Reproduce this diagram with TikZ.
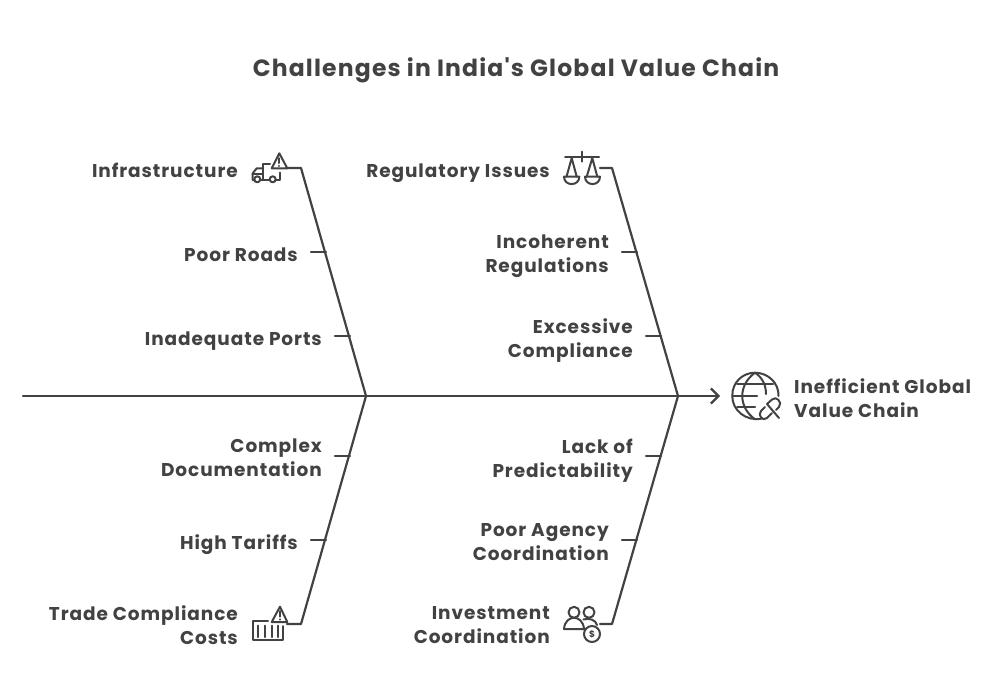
\documentclass[tikz,border=0pt]{standalone}
\usepackage{fontspec}
\setmainfont{Poppins}[LetterSpace=5.0, Ligatures=TeXOff]
\usetikzlibrary{positioning, arrows.meta}

\definecolor{ink}{HTML}{424242}

\begin{document}
\begin{tikzpicture}[x=1pt, y=-1pt, ink, line cap=round, line join=round,
                  bone/.style={draw, line width=2.2pt},
                  icon/.style={draw, line width=2pt},
                  cause/.style={font=\fontsize{18.5}{24}\selectfont\bfseries, text=ink,
                  align=right, inner sep=0pt, node distance=13pt,
                  execute at begin node=\strut, execute at end node=\strut},
                  effect/.style={cause, align=left}]
                  \useasboundingbox (0,0) rectangle (1008,697);

                  % Title of the picture.
                  \node[font=\fontsize{23.5}{24}\selectfont\bfseries, inner sep=0pt] (title) at (516,70)
                  {Challenges in India's Global Value Chain};

                  % Ends of the spine and the junctions of the bones.
                  \coordinate (tail) at (23,396);
                  \coordinate (head) at (720,396);
                  \coordinate (jl) at (366,396);
                  \coordinate (jr) at (678,396);

                  % Upper left bone.
                  \coordinate (ul0) at (287,168);
                  \coordinate (ul1) at (301,168);
                  \coordinate (ul2a) at (311,252);
                  \coordinate (ul2b) at (326,252);
                  \coordinate (ul3a) at (335,336);
                  \coordinate (ul3b) at (350,336);

                  % Upper right bone.
                  \coordinate (ur0) at (600,168);
                  \coordinate (ur1) at (612,168);
                  \coordinate (ur2a) at (622,252);
                  \coordinate (ur2b) at (637,252);
                  \coordinate (ur3a) at (646,336);
                  \coordinate (ur3b) at (661,336);

                  % Lower left bone.
                  \coordinate (ll1a) at (335,456);
                  \coordinate (ll1b) at (350,456);
                  \coordinate (ll2a) at (311,540);
                  \coordinate (ll2b) at (326,540);
                  \coordinate (ll3) at (301,624);
                  \coordinate (ll4) at (287,624);

                  % Lower right bone.
                  \coordinate (lr1a) at (646,456);
                  \coordinate (lr1b) at (661,456);
                  \coordinate (lr2a) at (622,540);
                  \coordinate (lr2b) at (637,540);
                  \coordinate (lr3) at (612,624);
                  \coordinate (lr4) at (600,624);

                  % Labels of the causes.
                  \node[cause] (infra) at (238,172.2) [anchor=east] {Infrastructure};
                  \node[cause, left=of ul2a, yshift=-4.2pt] (roads) {Poor Roads};
                  \node[cause, left=of ul3a, yshift=-4.2pt] (ports) {Inadequate Ports};
                  \node[cause] (regul) at (550,172.2) [anchor=east] {Regulatory Issues};
                  \node[cause, left=of ur2a, yshift=-5.7pt] (incoh) {Incoherent\\Regulations};
                  \node[cause, left=of ur3a, yshift=-5.7pt] (exces) {Excessive\\Compliance};
                  \node[cause, left=of ll1a, yshift=-5.7pt] (docs) {Complex\\Documentation};
                  \node[cause, left=of ll2a, yshift=-4.2pt] (tariff) {High Tariffs};
                  \node[cause] (trade) at (238,629) [anchor=east] {Trade Compliance\\Costs};
                  \node[cause, left=of lr1a, yshift=-5.7pt] (lack) {Lack of\\Predictability};
                  \node[cause, left=of lr2a, yshift=-5.7pt] (agency) {Poor Agency\\Coordination};
                  \node[cause] (invest) at (550,629) [anchor=east] {Investment\\Coordination};
                  \node[effect] (ineff) at (794,401.2) [anchor=west] {Inefficient Global\\Value Chain};

                  % Spine and bones.
                  \draw[bone, -{Straight Barb[length=7.5pt, width=15pt]}] (tail) -- (head);
                  \draw[bone] (ul0) -- (ul1) -- (jl);
                  \draw[bone] (ur0) -- (ur1) -- (jr);
                  \draw[bone] (ll4) -- (ll3) -- (jl);
                  \draw[bone] (lr4) -- (lr3) -- (jr);
                  \draw[bone] (ul2a) -- (ul2b);
                  \draw[bone] (ul3a) -- (ul3b);
                  \draw[bone] (ur2a) -- (ur2b);
                  \draw[bone] (ur3a) -- (ur3b);
                  \draw[bone] (ll1a) -- (ll1b);
                  \draw[bone] (ll2a) -- (ll2b);
                  \draw[bone] (lr1a) -- (lr1b);
                  \draw[bone] (lr2a) -- (lr2b);

                  % Truck with warning sign.
                  \draw[icon] (279.3,153.3) -- (271.7,168.3) -- (287.3,168.3) -- cycle;
                  \draw[icon] (279.3,158) -- (279.3,163) (279.3,165.8) -- (279.3,166);
                  \draw[icon] (270,164) -- (262.7,164) -- (262.7,180);
                  \draw[icon] (254,180) -- (252.7,180) -- (252.7,173.3) -- (256.7,168.3) -- (262.7,168.3);
                  \draw[icon] (252.7,174) -- (262.7,174);
                  \draw[icon] (257.3,179.3) circle (3);
                  \draw[icon] (272.7,179.3) circle (3);
                  \draw[icon] (260.5,180) -- (269.5,180) (276,180) -- (280,180) -- (280,172.7);

                  % Scales.
                  \draw[icon] (565,157.3) -- (599,157.3) (582.3,151.7) -- (582.3,161.7);
                  \draw[icon] (566.5,176.7) -- (571.7,158) -- (576.7,176.7);
                  \draw[icon] (586.7,176.7) -- (592.3,158) -- (597.3,176.7);
                  \draw[icon] (564,176.7) .. controls (564,186.5) and (579.3,186.5) .. (579.3,176.7) -- cycle;
                  \draw[icon] (585,176.7) .. controls (585,186.5) and (600,186.5) .. (600,176.7) -- cycle;

                  % Globe with broken link.
                  \draw[icon] (762,418.5) .. controls (746,422) and (732,410) .. (732.3,396)
                  .. controls (732,382) and (743,372.7) .. (755,372.7)
                  .. controls (768,372.7) and (779,383) .. (778.5,396);
                  \draw[icon] (755,372.7) .. controls (738,385) and (738,407) .. (755,419.3);
                  \draw[icon] (755,372.7) .. controls (763,378) and (766,386) .. (766,394);
                  \draw[icon] (737,384) -- (773,384);
                  \draw[icon] (732.3,396) -- (757,396);
                  \draw[icon] (737,407.3) -- (755,407.3);
                  \draw[icon] (767,404) -- (772,399.5) .. controls (776,395.5) and (783,402) .. (779,407) -- (776,410);
                  \draw[icon] (767,404) -- (779,418);
                  \draw[icon] (772,413) -- (767,418) .. controls (763,422) and (757,415) .. (761,411) -- (765,407);

                  % Container with warning sign.
                  \draw[icon] (280,606.7) -- (271.7,622) -- (287.3,622) -- cycle;
                  \draw[icon] (280,611) -- (280,616.5) (280,619.3) -- (280,619.5);
                  \draw[icon] (268,621) -- (252.7,621) -- (252.7,640) -- (283.3,640) -- (283.3,626);
                  \draw[icon] (258.3,625.7) -- (258.3,637) (265,625.7) -- (265,637);
                  \draw[icon] (271.7,625.7) -- (271.7,637) (278.3,625.7) -- (278.3,637);

                  % People with dollar coin.
                  \draw[icon] (574,612.3) circle (5.5);
                  \draw[icon] (589,612.3) circle (5.5);
                  \draw[icon] (564,629) .. controls (565,614) and (583,614) .. (584,629) -- cycle;
                  \draw[icon] (583.5,619.5) .. controls (589,617.5) and (596,620) .. (597,625);
                  \draw[icon] (592,634) circle (8);
                  \node[font=\fontsize{9}{9}\selectfont\bfseries, inner sep=0pt] (dollar) at (592,634) {\$};
\end{tikzpicture}
\end{document}
